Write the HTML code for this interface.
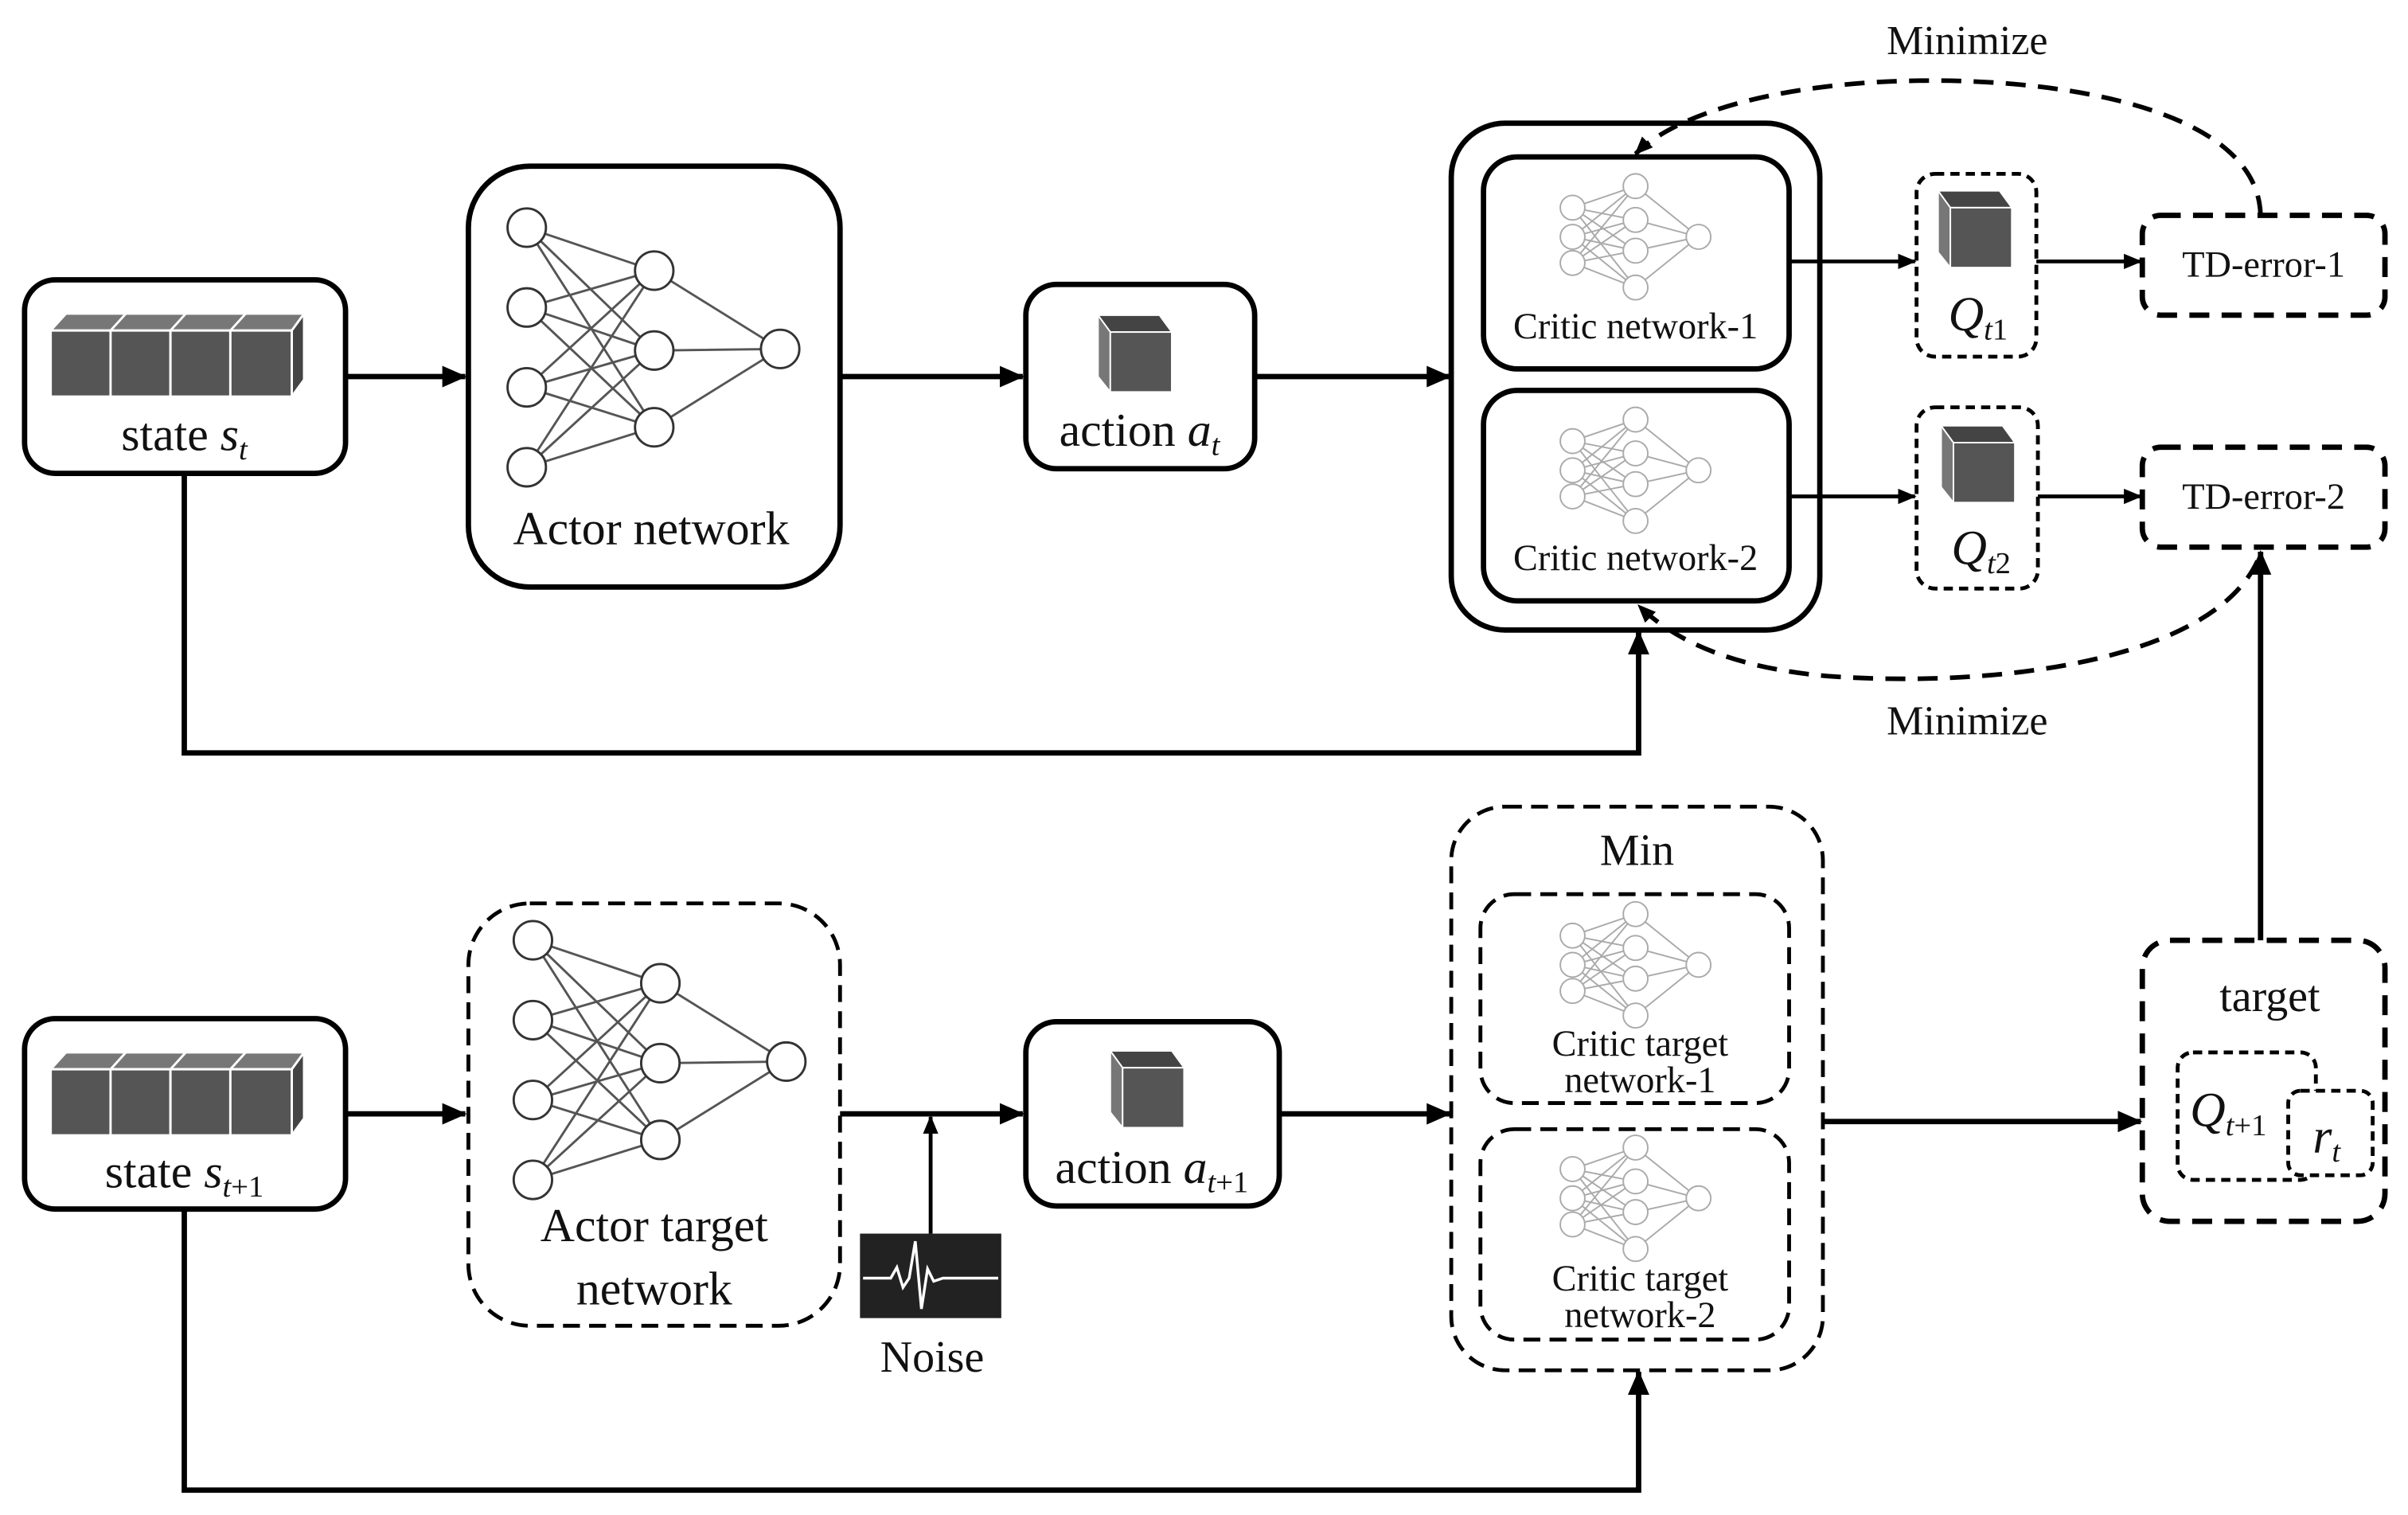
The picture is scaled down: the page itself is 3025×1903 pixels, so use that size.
<!DOCTYPE html>
<html><head><meta charset="utf-8"><style>html,body{margin:0;padding:0;background:#fff}svg{display:block}svg text{font-family:"Liberation Serif","DejaVu Serif","Noto Serif CJK SC",serif;fill:#111}</style></head><body>
<svg width="3025" height="1903" viewBox="0 0 1568 986" xmlns="http://www.w3.org/2000/svg">
<defs>
<marker id="ah" markerUnits="userSpaceOnUse" markerWidth="16" markerHeight="14" refX="15" refY="7" orient="auto"><path d="M0,0 L16,7 L0,14 z" fill="#000"/></marker>
<marker id="ahs" markerUnits="userSpaceOnUse" markerWidth="12" markerHeight="10" refX="11" refY="5" orient="auto"><path d="M0,0 L12,5 L0,10 z" fill="#000"/></marker>
<symbol id="nn" overflow="visible"><g stroke="#555" stroke-width="1.5" fill="none">
<path d="M0,0L83,28M0,0L83,80M0,0L83,130M0,52L83,28M0,52L83,80M0,52L83,130M0,104L83,28M0,104L83,80M0,104L83,130M0,156L83,28M0,156L83,80M0,156L83,130M83,28L165,79M83,80L165,79M83,130L165,79"/></g>
<g stroke="#333" stroke-width="1.5" fill="#fff"><circle cx="0" cy="0" r="12.5"/><circle cx="0" cy="52" r="12.5"/><circle cx="0" cy="104" r="12.5"/><circle cx="0" cy="156" r="12.5"/><circle cx="83" cy="28" r="12.5"/><circle cx="83" cy="80" r="12.5"/><circle cx="83" cy="130" r="12.5"/><circle cx="165" cy="79" r="12.5"/></g></symbol>
<symbol id="snn" overflow="visible"><g stroke="#aaa" stroke-width="1" fill="none">
<path d="M0,-19L41,-33M0,-19L41,-11M0,-19L41,9M0,-19L41,33M0,0L41,-33M0,0L41,-11M0,0L41,9M0,0L41,33M0,17L41,-33M0,17L41,-11M0,17L41,9M0,17L41,33M41,-33L82,0M41,-11L82,0M41,9L82,0M41,33L82,0"/></g>
<g stroke="#aaa" stroke-width="1" fill="#fff"><circle cx="0" cy="-19" r="8"/><circle cx="0" cy="0" r="8"/><circle cx="0" cy="17" r="8"/><circle cx="41" cy="-33" r="8"/><circle cx="41" cy="-11" r="8"/><circle cx="41" cy="9" r="8"/><circle cx="41" cy="33" r="8"/><circle cx="82" cy="0" r="8"/></g></symbol>
<symbol id="state" overflow="visible">
<g stroke="#fff" stroke-width="1.5"><path d="M0,11 L10,0 L165,0 L157,11 z" fill="#777"/><path d="M157,11 L165,0 L165,43 L157,54 z" fill="#444"/>
<rect x="0" y="11" width="39" height="43" fill="#555"/><rect x="39" y="11" width="39" height="43" fill="#555"/><rect x="78" y="11" width="39" height="43" fill="#555"/><rect x="117" y="11" width="40" height="43" fill="#555"/>
<path d="M39,11L49,0M78,11L88,0M117,11L127,0" stroke="#fff"/></g></symbol>
<symbol id="cube" overflow="visible"><g stroke="#fff" stroke-width="1">
<path d="M0,0 L40,0 L48,11 L8,11 z" fill="#444"/><path d="M0,0 L8,11 L8,50 L0,40 z" fill="#777"/><rect x="8" y="11" width="40" height="39" fill="#555"/></g></symbol>
</defs>
<g fill="#fff" stroke="#000" stroke-width="3.5">
<rect x="16" y="182" width="209" height="126" rx="20"/>
<rect x="305" y="108" width="242" height="274" rx="40"/>
<rect x="668" y="185" width="149" height="120" rx="20"/>
<rect x="945" y="80" width="240" height="330" rx="35"/>
<rect x="966" y="102" width="199" height="138" rx="22"/>
<rect x="966" y="254" width="199" height="137" rx="22"/>
<rect x="16" y="663" width="209" height="124" rx="20"/>
<rect x="668" y="665" width="165" height="120" rx="20"/>
</g>
<g fill="#fff" stroke="#000" stroke-width="2.5" stroke-dasharray="11,6">
<rect x="305" y="588" width="242" height="275" rx="40"/>
<rect x="945" y="525" width="242" height="367" rx="35"/>
<rect x="964" y="582" width="201" height="136" rx="22"/>
<rect x="964" y="735" width="201" height="137" rx="22"/>
</g>
<g fill="#fff" stroke="#000" stroke-width="3.5" stroke-dasharray="13,8">
<rect x="1395" y="140" width="158" height="65" rx="12"/>
<rect x="1395" y="291" width="158" height="65" rx="12"/>
<rect x="1395" y="612" width="158" height="183" rx="18"/>
</g>
<g fill="#fff" stroke="#000" stroke-width="2.5" stroke-dasharray="6,4">
<rect x="1248" y="113" width="78" height="119" rx="12"/>
<rect x="1248" y="265" width="79" height="118" rx="12"/>
<rect x="1418" y="685" width="90" height="83" rx="10"/>
<rect x="1490" y="710" width="55" height="55" rx="8"/>
</g>
<use href="#state" x="33" y="204"/><use href="#state" x="33" y="685"/>
<use href="#nn" x="343" y="148"/><use href="#nn" x="347" y="612"/>
<use href="#snn" x="1024" y="154"/><use href="#snn" x="1024" y="306"/>
<use href="#snn" x="1024" y="628"/><use href="#snn" x="1024" y="780"/>
<use href="#cube" x="715" y="205"/><use href="#cube" x="723" y="684"/>
<use href="#cube" x="1262" y="124"/><use href="#cube" x="1264" y="277"/>
<rect x="560" y="803" width="92" height="55" fill="#222"/>
<path d="M562,832 L580,832 L584,825 L588,838 L592,832 L596,808 L600,852 L604,826 L608,834 L614,832 L650,832" stroke="#fff" stroke-width="1.8" fill="none"/>
<g stroke="#000" stroke-width="3.5" fill="none" marker-end="url(#ah)">
<path d="M225,245 H303"/><path d="M547,245 H666"/><path d="M817,245 H944"/>
<path d="M120,308 V490 H1067 V411"/>
<path d="M225,725 H303"/><path d="M547,725 H666"/><path d="M833,725 H944"/>
<path d="M120,787 V970 H1067 V893"/>
<path d="M1187,730 H1394"/>
<path d="M1472,612 V359"/>
</g>
<g stroke="#000" stroke-width="2.5" fill="none" marker-end="url(#ahs)">
<path d="M1165,170 H1247"/><path d="M1326,170 H1394"/>
<path d="M1165,323 H1247"/><path d="M1327,323 H1394"/>
<path d="M606,803 V727"/>
</g>
<g stroke="#000" stroke-width="3" fill="none" stroke-dasharray="13,8" marker-end="url(#ahs)">
<path d="M1472,140 C1470,60 1300,45 1200,55 C1130,62 1085,80 1065,100"/>
<path d="M1470,365 C1440,430 1300,448 1190,440 C1120,434 1085,412 1067,394"/>
</g>
<g font-size="31" text-anchor="middle">
<text x="120" y="293">state <tspan font-style="italic">s</tspan><tspan font-style="italic" font-size="20" dy="6">t</tspan></text>
<text x="424" y="354">Actor network</text>
<text x="742" y="290">action <tspan font-style="italic">a</tspan><tspan font-style="italic" font-size="20" dy="6">t</tspan></text>
<text x="120" y="773">state <tspan font-style="italic">s</tspan><tspan font-style="italic" font-size="20" dy="6">t</tspan><tspan font-size="20">+1</tspan></text>
<text x="426" y="808">Actor target</text><text x="426" y="849">network</text>
<text x="750" y="770">action <tspan font-style="italic">a</tspan><tspan font-style="italic" font-size="20" dy="6">t</tspan><tspan font-size="20">+1</tspan></text>
<text x="607" y="893" font-size="29">Noise</text>
<text x="1066" y="563" font-size="29">Min</text>
<text x="1478" y="658" font-size="29">target</text>
<text x="1281" y="35" font-size="27">Minimize</text>
<text x="1281" y="478" font-size="27">Minimize</text>
<text x="1288" y="215" font-style="italic" font-size="32">Q<tspan font-size="20" dy="6">t</tspan><tspan font-style="normal" font-size="20">1</tspan></text>
<text x="1290" y="367" font-style="italic" font-size="32">Q<tspan font-size="20" dy="6">t</tspan><tspan font-style="normal" font-size="20">2</tspan></text>
<text x="1451" y="733" font-style="italic" font-size="32">Q<tspan font-size="20" dy="6">t</tspan><tspan font-style="normal" font-size="20">+1</tspan></text>
<text x="1515" y="750" font-style="italic" font-size="32">r<tspan font-size="20" dy="6">t</tspan></text>
</g>
<g font-size="24" text-anchor="middle">
<text x="1065" y="220">Critic network-1</text>
<text x="1065" y="371">Critic network-2</text>
<text x="1068" y="687">Critic target</text><text x="1068" y="711">network-1</text>
<text x="1068" y="840">Critic target</text><text x="1068" y="864">network-2</text>
<text x="1474" y="180">TD-error-1</text>
<text x="1474" y="331">TD-error-2</text>
</g>
</svg>
</body></html>
